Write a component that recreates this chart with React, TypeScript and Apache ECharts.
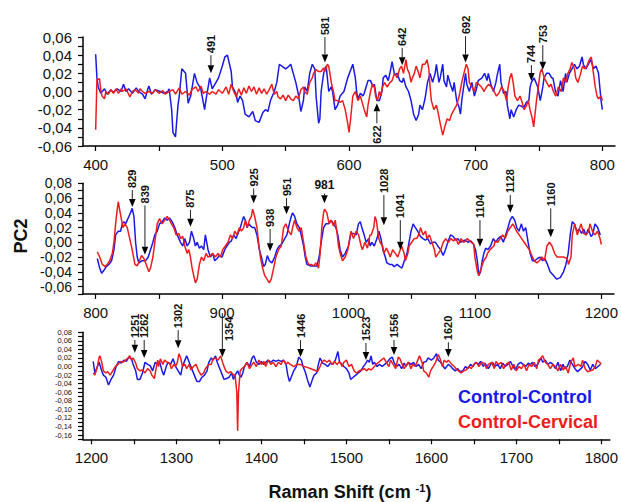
import React, { useEffect, useRef } from 'react';
import * as echarts from 'echarts';

const FONT = "'Liberation Sans', Arial, Helvetica, sans-serif";
const BLUE = '#1a1ae8';
const RED = '#ee1c1c';

// ---------- Panel 1 (400-800 cm-1) ----------
const p1Blue: number[][] = [[400,0.041],[401,0.015],[402,0.005],[404,-0.002],[407,0.003],[409,-0.003],[412,0.002],[414,-0.001],[417,0.003],[420,0],[422,0.008],[424,0],[426,0.003],[429,-0.002],[432,0.004],[434,0],[437,-0.003],[439,-0.008],[441,0.002],[442,0.006],[444,-0.003],[447,0.002],[451,0],[454,-0.002],[457,0],[458,0.003],[460,-0.02],[461,-0.045],[463,-0.05],[465,-0.015],[466,-0.005],[468,0.025],[471,0.02],[473,-0.013],[475,-0.005],[478,0.02],[480,0.01],[483,0.003],[486,-0.02],[487,-0.01],[490,0.015],[492,0.003],[495,0.01],[497,0.015],[500,0.028],[502,0.038],[504,0.04],[507,0.022],[508,0.005],[511,-0.003],[512,-0.012],[514,-0.005],[516,-0.01],[518,-0.025],[521,-0.028],[524,-0.022],[526,-0.032],[529,-0.034],[532,-0.023],[534,-0.02],[536,-0.022],[538,-0.01],[541,0],[543,0.01],[545,0.03],[547,0.028],[550,0.025],[552,0.027],[554,0.03],[556,0.02],[558,0.01],[560,-0.003],[562,-0.022],[564,-0.01],[565,0.005],[567,0],[569,0.02],[571,0.03],[573,0.025],[574,-0.005],[576,-0.035],[577,-0.03],[578,0],[580,0.02],[581,0.025],[582,0.028],[584,0],[586,0.005],[587,0],[589,-0.02],[591,-0.015],[593,-0.005],[596,0],[599,0.015],[603,0.03],[605,0.015],[606,0],[607,-0.008],[609,-0.002],[611,-0.005],[612,-0.002],[615,0.012],[617,0.012],[619,0.005],[620,0.008],[622,-0.01],[624,-0.01],[626,0],[627,0.015],[629,0.018],[631,0.012],[633,0.025],[634,0.033],[636,0.018],[638,0.02],[640,0.012],[642,0.01],[643,0.015],[645,0.005],[647,0],[649,-0.01],[651,-0.025],[653,-0.032],[655,-0.025],[656,-0.015],[658,-0.02],[660,-0.008],[662,0.01],[664,0.02],[666,0.01],[668,0.02],[669,0.03],[671,0.01],[672,0.015],[674,0.03],[675,0.012],[677,0.005],[678,0.018],[680,0.008],[682,0],[683,0.01],[685,-0.01],[687,-0.018],[688,-0.025],[689,-0.01],[691,0.01],[692,0.02],[693,0.008],[695,0],[697,0.01],[699,-0.005],[701,0.005],[702,0.012],[705,0.015],[707,0.02],[709,0.012],[710,0.02],[712,0.008],[714,0],[716,0.01],[717,0.018],[719,0.03],[720,0.01],[722,-0.002],[724,0],[725,-0.015],[727,-0.03],[728,-0.02],[730,-0.028],[732,-0.02],[734,-0.015],[736,-0.016],[738,-0.018],[740,-0.012],[742,-0.01],[743,0.005],[744,0.01],[746,0.015],[747,0.012],[749,0.005],[751,-0.01],[753,0.005],[754,0.015],[756,0.02],[758,0.02],[760,0.015],[761,0.015],[763,0],[765,-0.005],[767,0.012],[769,0],[771,0.02],[772,0.01],[774,0.02],[776,0.025],[778,0.03],[780,0.025],[782,0.028],[784,0.038],[785,0.03],[787,0.025],[789,0.03],[791,0.035],[793,0.025],[795,0.028],[797,0.02],[798,0.005],[799,-0.01],[800,-0.02]];
const p1Red: number[][] = [[400,-0.042],[401,0.013],[403,0.014],[404,0.002],[405,-0.005],[407,-0.008],[408,0],[410,-0.003],[412,0.002],[414,-0.002],[416,0.003],[418,-0.002],[420,0.003],[421,0],[424,0.003],[426,-0.003],[427,-0.006],[429,0],[431,0.002],[434,-0.002],[435,0.003],[437,0],[439,-0.002],[442,0],[445,-0.002],[447,0.002],[450,-0.002],[453,0.001],[455,-0.003],[458,0],[461,0.002],[463,-0.003],[466,0.004],[468,-0.003],[471,0],[474,-0.004],[476,0.002],[479,0.005],[481,0],[483,0.006],[485,-0.002],[487,0],[490,-0.003],[492,0],[495,-0.003],[497,0.002],[500,-0.002],[503,0.005],[505,-0.003],[507,0.008],[509,0],[511,-0.006],[513,0.003],[515,-0.004],[517,0.004],[519,-0.002],[521,0.006],[523,0],[525,0.005],[527,-0.003],[529,0.004],[531,-0.002],[533,0.003],[535,-0.003],[537,0.002],[539,0.008],[541,-0.003],[543,0],[544,-0.006],[546,-0.008],[548,-0.004],[550,-0.01],[552,-0.004],[554,-0.008],[556,-0.01],[558,-0.005],[560,-0.008],[562,0.002],[564,0.005],[565,0],[567,-0.003],[569,0.01],[571,0.015],[572,0.02],[574,0.024],[576,0.022],[578,0.022],[580,0.026],[581,0.022],[583,0.03],[584,0.028],[586,0.01],[588,-0.002],[589,-0.01],[591,-0.01],[593,-0.012],[595,-0.01],[597,-0.02],[599,-0.035],[600,-0.045],[601.3,-0.03],[603,-0.005],[605,0],[607,-0.01],[609,-0.005],[611,-0.015],[612,-0.02],[614,-0.028],[615,-0.015],[617,0],[618.5,0.008],[620,0.005],[621,-0.005],[622.5,-0.01],[624,0],[625,-0.005],[626.5,0.005],[628,0.01],[630,0.005],[632.5,0.01],[634,0.012],[636,0.02],[638,0.015],[640,0.025],[641.5,0.028],[643,0.02],[645,0.035],[646,0.025],[647.6,0.02],[649,0.01],[650,0.015],[651.6,0.02],[653,0.028],[655,0.02],[656,0.015],[658,0.03],[660,0.03],[661.6,0.035],[663,0.025],[664,0.005],[665,-0.01],[667,-0.02],[669,-0.015],[670.6,-0.025],[672,-0.035],[674,-0.048],[675.4,-0.04],[677.5,-0.03],[679.4,-0.032],[681,-0.025],[683,-0.02],[685,-0.015],[687,-0.005],[689,0.01],[690.7,0.02],[692.6,0.03],[694,0.025],[695,0.01],[697,0.005],[699,0],[700.5,0.01],[702.4,0.008],[704.5,0.005],[706.6,0],[708.5,0.005],[710.3,0.008],[712.4,0.005],[714.6,0],[716.4,-0.005],[718.3,-0.002],[720.4,0.005],[722.5,0],[724.3,-0.01],[725.7,0.005],[727,0.015],[728.3,0.02],[729.6,0.01],[731,-0.005],[733,-0.01],[735,-0.005],[736.2,-0.01],[738.4,-0.02],[740.2,-0.015],[741.5,-0.01],[742.9,-0.02],[744.7,-0.03],[745.8,-0.039],[748,-0.01],[749.5,0.005],[750.8,0.02],[752.1,0.025],[754.2,0.015],[756,0.01],[758,0.005],[759.5,0.008],[761.4,0],[763.2,-0.005],[765.3,0.005],[767.5,0],[769.3,0.015],[771.2,0.01],[772.8,0.02],[774.6,0.025],[775.9,0.032],[778,0.025],[779,0.015],[780.7,0.01],[782.5,0.018],[784.4,0.028],[786,0.025],[787.8,0.028],[789.7,0.035],[791.3,0.038],[793,0.02],[794.4,0.005],[795.8,-0.005],[797,-0.008],[799,-0.005],[800,-0.01]];

// ---------- Panel 2 (800-1200 cm-1) ----------
const p2Blue: number[][] = [[801.3,-0.022],[803.2,-0.035],[804.7,-0.042],[806.6,-0.038],[808.4,-0.033],[810.5,-0.03],[812.6,-0.025],[814.5,-0.01],[815.8,0.01],[817.9,0.015],[819.7,0.015],[821.1,0.025],[822.4,0.028],[823.7,0.025],[825,0.03],[826.3,0.035],[827.6,0.04],[828.9,0.046],[830.3,0.035],[831.6,0],[832.9,-0.02],[834.2,-0.028],[836.8,-0.025],[839.5,-0.025],[841.6,-0.02],[843.4,-0.01],[845.3,0],[846.8,0.01],[848.7,0.015],[850.5,0.025],[852.6,0.028],[854.7,0.033],[856.6,0.03],[858.4,0.033],[860.5,0.028],[862.6,0.02],[864.5,0.01],[865.8,0.005],[867.1,0],[868.9,-0.005],[870.5,0.005],[872.4,-0.005],[874.2,0],[875.8,0.015],[877.6,0.005],[878.9,-0.005],[880.3,0],[882.1,-0.008],[883.7,-0.005],[885.5,-0.01],[886.8,0.01],[888.9,-0.01],[890.8,-0.02],[892.6,-0.015],[894.2,-0.025],[896.1,-0.022],[897.9,-0.018],[900,-0.02],[902.1,-0.01],[903.9,-0.005],[905.8,0],[907.4,0.002],[909.2,0.01],[911.1,0.005],[912.6,0.012],[914.5,0.02],[915.8,0.028],[917.1,0.035],[918.4,0.03],[919.7,0.02],[921.1,0.025],[922.6,0.022],[924.2,0.02],[925.8,0.02],[927.6,0.01],[929.5,-0.01],[931.1,-0.02],[932.9,-0.033],[934.2,-0.03],[935.8,-0.018],[937.4,-0.025],[939.5,-0.028],[941.6,-0.02],[943.4,-0.01],[945.3,-0.005],[947.4,-0.002],[949.5,0.005],[951.3,0.01],[953.2,0.025],[954.7,0.035],[955.8,0.04],[957.4,0.035],[959.2,0.025],[961.1,0.02],[962.6,0.01],[964.5,-0.005],[965.8,-0.02],[967.1,-0.03],[969.7,-0.032],[972.4,-0.032],[975,-0.032],[976.8,-0.02],[978.4,0],[980.3,0.02],[982.1,0.025],[984.2,0.025],[986.3,0.03],[988.2,0.025],[990,0.02],[991.6,0.01],[993.4,-0.01],[995.3,-0.02],[997.4,-0.015],[1000,-0.005],[1001.9,0.012],[1004,0.012],[1006.1,0.01],[1007.9,0.025],[1009.3,0.028],[1010.6,0.02],[1012.4,0.01],[1014,0],[1015.9,0.005],[1017.2,-0.005],[1018.5,0],[1020.4,-0.005],[1022.5,0.005],[1024.1,0.015],[1025.7,0.005],[1027.2,-0.01],[1029.1,-0.02],[1030.4,-0.028],[1032.5,-0.03],[1034.4,-0.03],[1036.2,-0.033],[1038.4,-0.03],[1040.5,-0.033],[1042.3,-0.035],[1044.2,-0.025],[1046.3,-0.015],[1047.9,0],[1049.5,0.015],[1051.1,0.025],[1052.9,0.02],[1054.8,0.015],[1056.9,0.008],[1059,0.005],[1060.8,0.003],[1062.7,0.005],[1064.8,-0.002],[1066.9,0],[1068.8,0],[1070.6,-0.005],[1072.8,-0.01],[1074.9,-0.018],[1076.7,-0.01],[1078.6,0],[1080.7,0.01],[1082.8,0.008],[1084.7,0.003],[1086.5,0.005],[1088.6,0],[1090.7,0.002],[1092.6,0.003],[1094.4,0],[1096.6,0.002],[1098.7,-0.002],[1100.5,-0.01],[1101.9,-0.025],[1103.2,-0.045],[1104.5,-0.04],[1105.8,-0.025],[1107.1,-0.015],[1108.5,-0.008],[1110.3,-0.01],[1112.4,-0.005],[1114.6,0.005],[1116.4,0],[1118.3,0.005],[1120.4,0.008],[1122.5,0],[1124.3,0.01],[1126.2,0.02],[1127.8,0.03],[1129.6,0.035],[1131.5,0.03],[1133.1,0.02],[1134.9,0.015],[1136.8,0.025],[1138.4,0.015],[1140.2,0.02],[1142.1,0],[1143.7,-0.015],[1145.5,-0.025],[1147.4,-0.025],[1149.5,-0.022],[1151.6,-0.02],[1153.4,-0.025],[1155.3,-0.022],[1157.4,-0.03],[1159.5,-0.04],[1162.2,-0.045],[1164.8,-0.05],[1167.5,-0.048],[1170.1,-0.04],[1172,-0.03],[1173.8,-0.015],[1175.4,0.01],[1177,0.028],[1178.6,0.025],[1180.7,0.015],[1182.5,0.018],[1184.4,0.012],[1186,0.018],[1187.8,0.01],[1189.7,0.018],[1191.8,0.008],[1193.1,0.01],[1195,0.025],[1197.1,0.02],[1199.2,0.01]];
const p2Red: number[][] = [[801.3,-0.013],[803.2,-0.02],[805.3,-0.03],[807.4,-0.033],[809.2,-0.03],[811.1,-0.025],[813.2,-0.015],[814.5,0],[815.8,0.025],[817.1,0.045],[817.9,0.055],[818.9,0.045],[820.5,0.03],[821.6,0.02],[823.2,0.025],[825,0.02],[826.3,0.01],[827.6,0],[828.9,-0.01],[831.1,-0.03],[832.9,-0.032],[834.7,-0.025],[836.3,-0.018],[838.2,-0.022],[840,-0.03],[842.1,-0.04],[843.4,-0.035],[845.3,-0.02],[846.8,0],[848.7,0.025],[850.5,0.032],[852.6,0.025],[854.7,0.03],[856.6,0.035],[858.4,0.03],[860,0.025],[861.8,0.02],[863.7,0.01],[865.8,0.012],[867.1,0.005],[868.9,0.008],[870.5,-0.005],[872.4,-0.015],[873.7,-0.01],[875,-0.02],[876.3,-0.035],[877.6,-0.045],[878.9,-0.055],[880.3,-0.05],[882.1,-0.03],[883.7,-0.02],[885.5,-0.025],[887.4,-0.015],[888.9,-0.02],[890.8,-0.018],[892.6,-0.015],[894.7,-0.02],[896.8,-0.015],[898.7,-0.02],[900.5,-0.01],[902.6,-0.005],[904.7,0],[906.6,0.01],[908.4,0.005],[910,0.015],[911.8,0.01],[913.7,0.02],[915.3,0.015],[917.1,0.02],[918.4,0.03],[920,0.02],[921.6,0.03],[923.2,0.035],[924.2,0.045],[925.8,0.035],[927.6,0.02],[928.9,0],[930.3,-0.02],[932.1,-0.035],[933.7,-0.045],[935.5,-0.05],[937.4,-0.055],[938.9,-0.05],[940.8,-0.035],[942.6,-0.02],[944.7,-0.01],[946.8,-0.005],[948.7,0.02],[950.5,0.025],[952.6,0.015],[954.7,0.01],[955.8,0.02],[957.4,0.03],[959.2,0.02],[961.1,0.015],[962.6,0.02],[964.5,0],[966.3,-0.02],[968.4,-0.03],[970.5,-0.03],[972.4,-0.032],[974.2,-0.028],[976.3,-0.035],[977.6,-0.015],[978.9,0.02],[980.3,0.04],[981.1,0.045],[982.9,0.04],[984.7,0.025],[986.3,0.03],[988.2,0.022],[989.5,0.03],[990.8,0.015],[992.1,-0.005],[993.4,-0.015],[995.3,-0.025],[997.4,-0.02],[999.5,-0.01],[1002,0.015],[1004,0.005],[1006,0.015],[1008,0.01],[1010,-0.005],[1011,-0.01],[1013,0],[1015,-0.008],[1017,0.01],[1018,0.01],[1020,0.02],[1021,0.035],[1022,0.03],[1024,0.005],[1025,0],[1027,-0.005],[1028,-0.015],[1030,-0.008],[1032,-0.015],[1033,-0.02],[1035,-0.01],[1037,-0.015],[1039,-0.02],[1040,-0.015],[1042,-0.005],[1044,-0.015],[1045,-0.025],[1047,-0.015],[1048,-0.005],[1050,0],[1052,0.005],[1054,0.005],[1056,0.012],[1057,0.02],[1059,0.01],[1061,0.015],[1062,0.005],[1064,0.01],[1066,0],[1068,-0.01],[1069,-0.02],[1071,-0.015],[1073,-0.01],[1075,0],[1077,0.005],[1079,0],[1081,0.005],[1083,0.002],[1085,0.005],[1087,-0.003],[1089,0.005],[1091,0],[1093,0.002],[1094,0.005],[1097,0],[1099,-0.002],[1100,-0.02],[1102,-0.04],[1103,-0.045],[1105,-0.035],[1107,-0.025],[1109,-0.02],[1110,-0.015],[1112,-0.01],[1115,-0.005],[1116,0.002],[1118,0],[1120,0.005],[1122,0.01],[1124,0.005],[1126,0.015],[1128,0.02],[1130,0.025],[1131,0.022],[1133,0.015],[1135,0.01],[1137,0.005],[1139,0],[1141,-0.005],[1143,-0.01],[1145,-0.018],[1147,-0.025],[1149,-0.028],[1151,-0.025],[1153,-0.02],[1155,-0.025],[1156,-0.015],[1157,-0.005],[1159,0],[1161,-0.005],[1163,-0.015],[1165,-0.02],[1168,-0.02],[1170,-0.02],[1173,-0.022],[1174,-0.03],[1176,-0.02],[1177,0.01],[1179,0.025],[1181,0.01],[1183,0.02],[1184,0.025],[1186,0.012],[1188,0.01],[1190,0.015],[1191,0.025],[1193,0.015],[1195,0.01],[1197,0.015],[1199,0.005],[1200,-0.003]];

// ---------- Panel 3 (1200-1800 cm-1) ----------
const p3Blue: number[][] = [[1202,0.012],[1204,-0.015],[1207,0],[1209,0.01],[1212,-0.01],[1214,-0.02],[1217,-0.025],[1220,-0.043],[1223,-0.03],[1226,-0.02],[1229,0],[1232,0.012],[1235,0.008],[1238,0.015],[1241,0.012],[1244,0.022],[1247,0.018],[1249,0.005],[1252,-0.01],[1254,-0.03],[1257,-0.03],[1260,-0.015],[1263,0.01],[1266,0.005],[1269,0.002],[1272,-0.01],[1275,0.01],[1278,0.005],[1280,0.012],[1283,-0.01],[1285,-0.02],[1288,0],[1290,0.01],[1293,0.005],[1296,0.018],[1299,0],[1302,-0.01],[1305,-0.02],[1307,0],[1310,0.015],[1312,0.025],[1315,0.01],[1318,-0.005],[1321,-0.02],[1324,-0.035],[1327,-0.035],[1330,-0.025],[1333,-0.02],[1336,-0.01],[1338,0.01],[1341,0.02],[1343,0.015],[1346,0.025],[1348,0.01],[1351,-0.005],[1354,-0.02],[1356,-0.03],[1359,-0.028],[1362,-0.025],[1365,-0.015],[1367,-0.03],[1369,-0.02],[1372,-0.01],[1374,-0.02],[1376,-0.025],[1378,-0.015],[1380,0],[1383,0.01],[1386,0],[1389,0.02],[1391,0.025],[1394,0.01],[1397,0.005],[1400,0.012],[1403,0.005],[1405,0.01],[1408,0.015],[1411,0.01],[1414,0.015],[1417,0.012],[1420,0.015],[1423,0.012],[1426,0.015],[1429,0.005],[1431,-0.02],[1433,-0.035],[1435,-0.025],[1438,-0.01],[1441,0],[1444,0.022],[1447,0.015],[1449,0],[1452,-0.015],[1454,-0.03],[1457,-0.048],[1460,-0.03],[1462,-0.02],[1465,-0.015],[1467,0.005],[1469,0.02],[1472,0.008],[1475,0.005],[1478,0],[1481,0.008],[1484,0.005],[1487,0.015],[1490,0.035],[1492,0.01],[1495,0.005],[1497,0],[1500,-0.005],[1503,-0.015],[1505,-0.03],[1508,-0.025],[1511,-0.02],[1514,-0.015],[1517,-0.01],[1520,0],[1522,0.005],[1525,0.015],[1527,0.01],[1529,0.025],[1531,0.005],[1533,0.01],[1536,0],[1539,0.005],[1542,0],[1545,0.005],[1548,0.01],[1551,0.018],[1554,0.022],[1556,0.01],[1559,0],[1562,0.005],[1565,-0.005],[1568,0.008],[1570,0],[1573,0.01],[1576,0.005],[1579,0.01],[1582,0],[1585,0.005],[1588,-0.005],[1591,0.01],[1594,0.012],[1596,0.02],[1600,0.015],[1603,0.02],[1606,0.03],[1608,0.015],[1611,0.01],[1614,0],[1616,-0.005],[1620,0.005],[1623,0],[1625,-0.005],[1628,-0.01],[1631,-0.005],[1634,-0.012],[1637,-0.01],[1640,0],[1643,-0.005],[1646,0.005],[1649,0],[1652,0.01],[1655,0.005],[1658,0.012],[1661,0],[1663,0.008],[1667,-0.005],[1670,0.005],[1672,0.01],[1675,0],[1678,0.005],[1681,-0.005],[1684,0.008],[1687,0],[1690,0.005],[1693,0.012],[1696,0],[1699,-0.008],[1702,0.005],[1705,0.01],[1708,0.005],[1711,0],[1714,0.008],[1717,0.005],[1719,0.01],[1722,0],[1725,0.005],[1729,0.02],[1731,0.01],[1734,0.015],[1737,0.005],[1740,0.01],[1743,0.005],[1746,-0.005],[1749,0.01],[1752,-0.01],[1755,0.005],[1757,-0.005],[1760,0],[1763,0.015],[1766,0.005],[1769,-0.005],[1772,-0.012],[1776,-0.005],[1778,0],[1781,0.012],[1784,0.005],[1787,-0.008],[1790,0.005],[1793,-0.005],[1796,0],[1799,0.005]];
const p3Red: number[][] = [[1202,-0.015],[1204,-0.02],[1207,0],[1209,0.022],[1210,0.025],[1212,0.01],[1214,-0.01],[1217,-0.015],[1219,-0.012],[1222,-0.02],[1225,-0.01],[1228,0],[1231,0.005],[1234,0.012],[1237,0.01],[1240,0.015],[1243,0.02],[1245,0.025],[1247,0.015],[1249,0.02],[1252,0.008],[1254,-0.005],[1257,-0.01],[1260,-0.008],[1263,-0.015],[1266,-0.005],[1269,-0.01],[1271,-0.02],[1274,-0.028],[1276,-0.005],[1278,0.015],[1279,0],[1281,0.018],[1284,0.005],[1286,0.015],[1289,0.01],[1292,0.008],[1294,-0.005],[1297,0.005],[1299,0],[1301,0.01],[1303,0.03],[1305,0.02],[1307,0],[1310,0.005],[1312,-0.005],[1315,0.005],[1317,-0.008],[1320,0],[1323,0.005],[1326,-0.01],[1329,-0.02],[1332,-0.015],[1334,-0.005],[1338,0.005],[1341,0.005],[1343,0.018],[1346,0.02],[1349,0.015],[1352,0.025],[1355,0.005],[1358,-0.01],[1361,-0.015],[1364,-0.012],[1367,-0.02],[1369,-0.02],[1371,-0.06],[1372,-0.15],[1373,-0.06],[1375,-0.01],[1377,-0.005],[1380,0],[1383,0.01],[1386,-0.005],[1389,0.005],[1391,0.01],[1394,0],[1397,0.015],[1400,0.005],[1403,0.012],[1405,0],[1408,0.015],[1411,0.005],[1414,0.01],[1417,0],[1420,0.01],[1423,0.005],[1426,0.015],[1429,0.005],[1431,0.01],[1434,0.005],[1438,0],[1442,0.005],[1446,0.005],[1450,0],[1454,-0.002],[1458,-0.005],[1462,-0.008],[1466,-0.012],[1469,0],[1471,0.01],[1474,0.015],[1477,0.01],[1480,0.015],[1483,0.005],[1486,0.012],[1489,0.005],[1492,0.012],[1495,0],[1497,0.01],[1500,0.015],[1503,0],[1506,0.005],[1509,-0.01],[1512,-0.015],[1515,-0.01],[1518,-0.008],[1521,-0.005],[1524,-0.01],[1526,-0.005],[1529,-0.008],[1533,0],[1535,0.005],[1538,0.01],[1541,0.015],[1544,0.02],[1547,0.01],[1550,0],[1552,0.015],[1555,0.005],[1558,-0.005],[1561,0.022],[1563,0.018],[1565,0.008],[1568,-0.005],[1571,0.005],[1573,0.01],[1576,-0.005],[1578,0.005],[1581,0],[1584,0.015],[1586,0.025],[1589,0.01],[1591,-0.01],[1594,-0.015],[1597,-0.025],[1599,-0.01],[1602,0],[1605,0.01],[1608,0.028],[1610,0.02],[1613,0],[1615,0.015],[1618,0.01],[1620,0.015],[1624,0.005],[1627,0],[1629,-0.005],[1632,-0.01],[1635,-0.015],[1638,-0.01],[1641,-0.008],[1644,0],[1647,-0.005],[1650,0.005],[1653,0.01],[1656,0],[1659,0.01],[1662,0.008],[1665,-0.005],[1667,0.005],[1671,0.01],[1674,-0.005],[1676,0.012],[1679,0.005],[1682,0.01],[1685,-0.005],[1688,0.005],[1691,0.01],[1694,-0.008],[1697,0.005],[1700,-0.01],[1703,0],[1706,-0.005],[1709,0.005],[1712,-0.01],[1715,0.005],[1718,0],[1721,0.01],[1724,-0.005],[1726,0.015],[1729,0.02],[1731,0.025],[1734,0.01],[1737,0.005],[1740,-0.005],[1743,0.005],[1746,0],[1749,-0.01],[1752,0.005],[1755,-0.008],[1758,0],[1761,-0.015],[1764,0.01],[1767,0.02],[1769,0],[1773,0.005],[1776,0],[1778,0.015],[1781,-0.005],[1784,-0.012],[1787,-0.01],[1790,-0.008],[1793,0],[1795,0.015],[1798,0.01],[1800,0.005]];

// ---------- Peak annotations: wavenumber, arrow tip, arrow tail, label mode ----------
const p1AnnX = [491, 581, 642, 692, 744, 753, 622];
const p1AnnTip = [0.020, 0.032, 0.029, 0.032, 0.0115, 0.024, -0.013];
const p1AnnTail = [0.040, 0.060, 0.048, 0.061, 0.029, 0.051, -0.035];
const p1AnnMode = ['up', 'up', 'up', 'up', 'up', 'up', 'down'];

const p2AnnX = [829, 839, 875, 925, 938, 951, 981, 1028, 1041, 1104, 1128, 1160];
const p2AnnTip = [0.048, -0.017, 0.021, 0.053, -0.012, 0.038, 0.053, 0.023, -0.010, -0.006, 0.040, 0.007];
const p2AnnTail = [0.071, 0.050, 0.044, 0.073, 0.018, 0.060, 0.066, 0.064, 0.030, 0.030, 0.064, 0.046];
const p2AnnMode = ['up', 'up', 'up', 'up', 'up', 'up', 'flat', 'up', 'up', 'up', 'up', 'up'];

const p3AnnX = [1251, 1262, 1302, 1354, 1446, 1523, 1556, 1620];
const p3AnnTip = [0.032, 0.020, 0.043, 0.022, 0.022, 0.015, 0.027, 0.022];
const p3AnnTail = [0.062, 0.062, 0.085, 0.125, 0.062, 0.055, 0.062, 0.057];
const p3AnnMode = ['up', 'up', 'up', 'side', 'up', 'up', 'up', 'up'];

// ---------- Axis ticks / labels ----------
const p1XTicks = [400, 450, 500, 550, 600, 650, 700, 750, 800];
const p1XLabels = [400, 500, 600, 700, 800];
const p2XTicks = [800, 850, 900, 950, 1000, 1050, 1100, 1150, 1200];
const p2XLabels = [800, 900, 1000, 1100, 1200];
const p3XTicks = [1200, 1250, 1300, 1350, 1400, 1450, 1500, 1550, 1600, 1650, 1700, 1750, 1800];
const p3XLabels = [1200, 1300, 1400, 1500, 1600, 1700, 1800];

const p1YTicks = [-0.06, -0.05, -0.04, -0.03, -0.02, -0.01, 0, 0.01, 0.02, 0.03, 0.04, 0.05, 0.06];
const p1YLabels = [-0.06, -0.04, -0.02, 0, 0.02, 0.04, 0.06];
const p2YTicks = [-0.07, -0.06, -0.05, -0.04, -0.03, -0.02, -0.01, 0, 0.01, 0.02, 0.03, 0.04, 0.05, 0.06, 0.07, 0.08];
const p2YLabels = [-0.06, -0.04, -0.02, 0, 0.02, 0.04, 0.06, 0.08];
const p3YTicks = [-0.17, -0.16, -0.15, -0.14, -0.13, -0.12, -0.11, -0.1, -0.09, -0.08, -0.07, -0.06, -0.05, -0.04, -0.03, -0.02, -0.01, 0, 0.01, 0.02, 0.03, 0.04, 0.05, 0.06, 0.07, 0.08];
const p3YLabels = [-0.16, -0.14, -0.12, -0.1, -0.08, -0.06, -0.04, -0.02, 0, 0.02, 0.04, 0.06, 0.08];

const seriesNames = ['Control-Control', 'Control-Cervical'];

const fmtY = (v: number) => {
  const x = Math.abs(v) < 1e-9 ? 0 : v;
  return x.toFixed(2).replace('.', ',');
};
const fmtX = (v: number) => String(Math.round(v));

function xAxisFor(gridIndex: number, min: number, max: number, ticks: number[], labels: number[]) {
  return {
    type: 'value', gridIndex, min, max,
    axisLine: { show: true, onZero: false, lineStyle: { color: '#000', width: 1.5 } },
    axisTick: { show: true, length: 5, customValues: ticks, lineStyle: { color: '#000', width: 1.2 } },
    axisLabel: {
      customValues: labels, margin: 11, color: '#111', fontSize: 15, fontFamily: FONT,
      formatter: fmtX, showMinLabel: true, showMaxLabel: true, hideOverlap: false,
    },
    splitLine: { show: false },
  };
}

function yAxisFor(gridIndex: number, min: number, max: number, ticks: number[], labels: number[], fontSize: number, lineHeight: number) {
  return {
    type: 'value', gridIndex, min, max,
    axisLine: { show: true, lineStyle: { color: '#000', width: 1.5 } },
    axisTick: { show: true, length: 5, customValues: ticks, lineStyle: { color: '#000', width: 1.2 } },
    axisLabel: {
      customValues: labels, margin: 11, color: '#111', fontSize, lineHeight, fontFamily: FONT, formatter: fmtY,
      showMinLabel: true, showMaxLabel: true, hideOverlap: false,
    },
    splitLine: { show: false },
  };
}

function annSeries(idx: number, xs: number[], tips: number[], tails: number[], modes: string[]) {
  return {
    type: 'custom',
    xAxisIndex: idx, yAxisIndex: idx,
    clip: false, silent: true, z: 20,
    data: xs.map((x, i) => [x, tips[i], tails[i]]),
    renderItem: (params: any, api: any) => {
      const i = params.dataIndex;
      const tip = api.coord([xs[i], tips[i]]);
      const tail = api.coord([xs[i], tails[i]]);
      const down = tail[1] < tip[1];
      const headH = 8;
      const headW = 3.3;
      const base = down ? tip[1] - headH : tip[1] + headH;
      const x = tip[0];
      const label = String(xs[i]);
      const mode = modes[i];
      let text: any;
      const tStyle = { text: label, fontSize: 11, fontWeight: 'bold', fontFamily: FONT, fill: '#111' };
      if (mode === 'flat') {
        text = { type: 'text', x, y: tail[1] - 3, style: { ...tStyle, fontSize: 12, align: 'center', verticalAlign: 'bottom' } };
      } else if (mode === 'down') {
        text = { type: 'text', x, y: tail[1] + 2, rotation: Math.PI / 2, style: { ...tStyle, align: 'right', verticalAlign: 'middle' } };
      } else if (mode === 'side') {
        text = { type: 'text', x: x + 7, y: tail[1] + 28, rotation: Math.PI / 2, style: { ...tStyle, align: 'left', verticalAlign: 'middle' } };
      } else {
        text = { type: 'text', x, y: tail[1] - 2, rotation: Math.PI / 2, style: { ...tStyle, align: 'left', verticalAlign: 'middle' } };
      }
      return {
        type: 'group',
        children: [
          { type: 'line', shape: { x1: x, y1: tail[1], x2: x, y2: base }, style: { stroke: '#222', lineWidth: 1 } },
          { type: 'polygon', shape: { points: [[x, tip[1]], [x - headW, base], [x + headW, base]] }, style: { fill: '#000' } },
          text,
        ],
      };
    },
  };
}

function lineSeries(name: string, idx: number, data: number[][], color: string) {
  return {
    name, type: 'line', xAxisIndex: idx, yAxisIndex: idx, data,
    showSymbol: false, symbol: 'none', smooth: false,
    lineStyle: { color, width: 1.5 }, itemStyle: { color },
  };
}

export default function App() {
  const ref = useRef<HTMLDivElement>(null);
  useEffect(() => {
    if (!ref.current) return;
    const chart = echarts.init(ref.current, null, { renderer: 'svg' });
    const option: any = {
      animation: false,
      backgroundColor: '#fff',
      grid: [
        { left: 83, width: 532, top: 37, height: 109 },
        { left: 83, width: 532, top: 183.3, height: 110.6 },
        { left: 83, width: 532, top: 332.3, height: 107 },
      ],
      xAxis: [
        xAxisFor(0, 390, 810, p1XTicks, p1XLabels),
        xAxisFor(1, 790, 1210, p2XTicks, p2XLabels),
        xAxisFor(2, 1190, 1810, p3XTicks, p3XLabels),
      ],
      yAxis: [
        yAxisFor(0, -0.06, 0.06, p1YTicks, p1YLabels, 15, 15),
        yAxisFor(1, -0.07, 0.08, p2YTicks, p2YLabels, 14, 13),
        yAxisFor(2, -0.17, 0.08, p3YTicks, p3YLabels, 7.5, 8),
      ],
      series: [
        lineSeries(seriesNames[0], 0, p1Blue, BLUE),
        lineSeries(seriesNames[1], 0, p1Red, RED),
        lineSeries(seriesNames[0], 1, p2Blue, BLUE),
        lineSeries(seriesNames[1], 1, p2Red, RED),
        lineSeries(seriesNames[0], 2, p3Blue, BLUE),
        lineSeries(seriesNames[1], 2, p3Red, RED),
        annSeries(0, p1AnnX, p1AnnTip, p1AnnTail, p1AnnMode),
        annSeries(1, p2AnnX, p2AnnTip, p2AnnTail, p2AnnMode),
        annSeries(2, p3AnnX, p3AnnTip, p3AnnTail, p3AnnMode),
      ],
      graphic: [
        {
          type: 'text', x: 21, y: 236, rotation: Math.PI / 2,
          style: { text: 'PC2', fontSize: 18, fontWeight: 'bold', fontFamily: FONT, fill: '#111', align: 'center', verticalAlign: 'middle' },
        },
        {
          type: 'text', x: 350, y: 492,
          style: {
            text: '{a|Raman Shift (cm }{s|-1}{a|)}',
            align: 'center', verticalAlign: 'middle', fill: '#111',
            rich: {
              a: { fontSize: 18, fontWeight: 'bold', fontFamily: FONT, fill: '#111', lineHeight: 20 },
              s: { fontSize: 11, fontWeight: 'bold', fontFamily: FONT, fill: '#111', verticalAlign: 'top', lineHeight: 12 },
            },
          },
        },
        {
          type: 'text', x: 458, y: 397,
          style: { text: seriesNames[0], fontSize: 18, fontWeight: 'bold', fontFamily: FONT, fill: BLUE, align: 'left', verticalAlign: 'middle' },
        },
        {
          type: 'text', x: 458, y: 422,
          style: { text: seriesNames[1], fontSize: 18, fontWeight: 'bold', fontFamily: FONT, fill: RED, align: 'left', verticalAlign: 'middle' },
        },
      ],
    };
    chart.setOption(option);
    return () => chart.dispose();
  }, []);
  return (
    <div
      ref={ref}
      style={{ position: 'fixed', left: 0, top: 0, width: 621, height: 502, background: '#fff' }}
    />
  );
}
